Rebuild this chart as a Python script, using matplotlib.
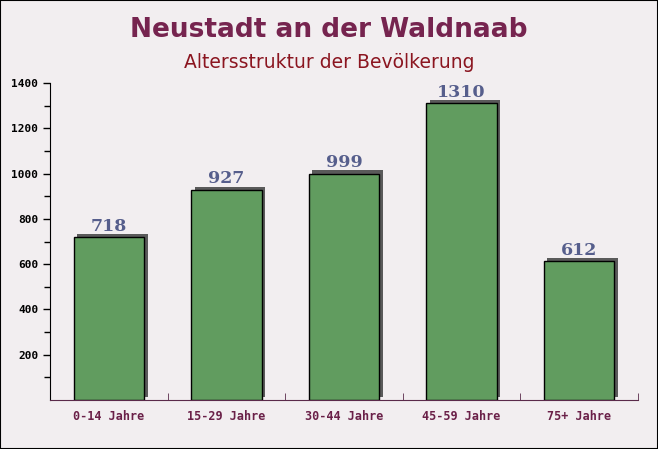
import numpy as np
import matplotlib
matplotlib.use('Agg')
import matplotlib.pyplot as plt
import matplotlib.transforms as mtransforms


categories = ["0-14 Jahre", "15-29 Jahre", "30-44 Jahre", "45-59 Jahre", "75+ Jahre"]
values = [718, 927, 999, 1310, 612]
title = "Neustadt an der Waldnaab"
subtitle = "Altersstruktur der Bevölkerung"

bg_color = "#f2eef0"
bar_color = "#619c5f"
shadow_color = "#5a5a5a"
value_color = "#565e8c"


fig = plt.figure(figsize=(6.58, 4.49), dpi=100, facecolor=bg_color)
ax = fig.add_axes([50/658, 49/449, 588/658, 317/449])
ax.set_facecolor("none")

x = np.arange(len(categories))

# shadow: offset copy of the bars, a few pixels right and up
shadow_tr = mtransforms.offset_copy(ax.transData, fig=fig, x=3.5, y=3.5, units="dots")
ax.bar(x, values, width=0.6, color=shadow_color, transform=shadow_tr, zorder=1)
ax.bar(x, values, width=0.6, color=bar_color, edgecolor="black", lw=1, zorder=2)

for xi, v in zip(x, values):
    ax.text(xi, v + 12, str(v), ha="center", va="bottom", fontsize=12.5,
            fontweight="bold", family="DejaVu Serif", color=value_color, zorder=3)

ax.set_xlim(-0.5, len(categories) - 0.5)
ax.set_ylim(0, 1400)

ax.set_yticks(np.arange(200, 1401, 200))
ax.set_yticks(np.arange(100, 1400, 200), minor=True)
ax.tick_params(axis="y", which="both", direction="out", length=5, width=1,
               labelsize=8, colors="black")
ax.tick_params(axis="y", which="minor", length=4)
for lbl in ax.get_yticklabels():
    lbl.set_family("DejaVu Sans Mono")
    lbl.set_fontweight("bold")

ax.set_xticks(x)
ax.set_xticklabels(categories, family="DejaVu Sans Mono", fontsize=8.5,
                   fontweight="bold", color="#6a2048")
ax.set_xticks(np.arange(0.5, len(categories), 1.0), minor=True)
ax.tick_params(axis="x", which="major", length=0, pad=7)
ax.tick_params(axis="x", which="minor", direction="in", length=5, color="#5a2a4a")

ax.spines["top"].set_visible(False)
ax.spines["right"].set_visible(False)
ax.spines["left"].set_color("black")
ax.spines["bottom"].set_color("#5a2a4a")

fig.text(0.5, 1 - 30/449, title, ha="center", va="center", fontsize=19,
         fontweight="bold", color="#76244f")
fig.text(0.5, 1 - 62/449, subtitle, ha="center", va="center", fontsize=13.5,
         color="#8b1520")

# thin black frame around the image
fig.patches.append(plt.Rectangle((0, 0), 1, 1, transform=fig.transFigure,
                                 fill=False, edgecolor="black", lw=1.5))

plt.savefig("out.png", dpi=100, facecolor=bg_color)
plt.close()
